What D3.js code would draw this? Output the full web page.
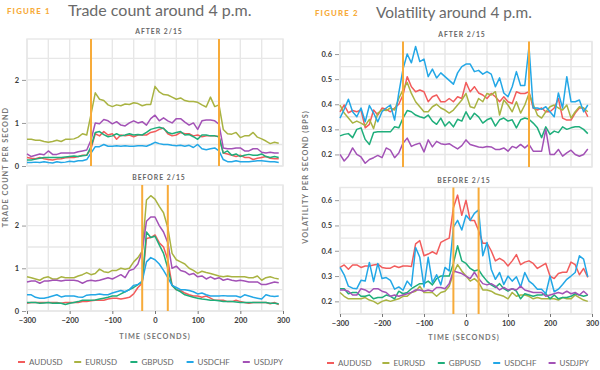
<!DOCTYPE html>
<html>
<head>
<meta charset="utf-8">
<script src="https://cdn.jsdelivr.net/npm/d3@7"></script>
<style>
  body { margin: 0; background: #fff; }
  svg { display: block; font-family: Lato, "Open Sans", sans-serif; }
  .tick text { font-family: Lato, sans-serif; font-weight: 700; fill: #3a3a3a; }
</style>
</head>
<body>
<div id="chart"></div>
<script>
// x values (seconds around 4 p.m.)
var seconds = [-300,-290,-280,-270,-260,-250,-240,-230,-220,-210,
  -200,-190,-180,-170,-160,-150,-140,-130,-120,-110,
  -100,-90,-80,-70,-60,-50,-40,-30,-20,-10,
  0,10,20,30,40,50,60,70,80,90,
  100,110,120,130,140,150,160,170,180,190,
  200,210,220,230,240,250,260,270,280,290];

var pairs = ["AUDUSD", "EURUSD", "GBPUSD", "USDCHF", "USDJPY"];

// Figure 1 - trade count per second, after 2/15
var tcAfterAUD = [0.2,0.18,0.17,0.2,0.17,0.15,0.14,0.16,0.17,0.19, 0.2,0.2,0.22,0.25,0.25,0.4,0.75,0.7,0.8,0.72,
  0.75,0.62,0.72,0.7,0.72,0.68,0.72,0.72,0.72,0.78, 0.8,0.85,0.88,0.75,0.7,0.72,0.78,0.75,0.75,0.7,
  0.72,0.68,0.7,0.7,0.7,0.68,0.3,0.28,0.25,0.22, 0.25,0.2,0.2,0.15,0.18,0.2,0.22,0.18,0.17,0.17];
var tcAfterEUR = [0.62,0.62,0.6,0.6,0.57,0.55,0.57,0.6,0.57,0.62, 0.62,0.63,0.67,0.75,0.72,1.2,1.7,1.55,1.52,1.42,
  1.38,1.42,1.4,1.44,1.43,1.47,1.45,1.4,1.43,1.43, 1.85,1.72,1.66,1.65,1.6,1.55,1.58,1.52,1.5,1.5,
  1.48,1.42,1.37,1.6,1.38,1.42,0.85,0.75,0.74,0.78, 0.66,0.7,0.7,0.78,0.67,0.63,0.58,0.52,0.55,0.53];
var tcAfterGBP = [0.14,0.14,0.16,0.18,0.2,0.2,0.2,0.2,0.2,0.21, 0.22,0.23,0.22,0.24,0.25,0.45,0.78,0.8,0.73,0.68,
  0.7,0.75,0.7,0.72,0.75,0.72,0.73,0.72,0.78,0.85, 0.88,0.9,0.87,0.78,0.75,0.78,0.8,0.72,0.73,0.68,
  0.62,0.72,0.72,0.7,0.7,0.68,0.3,0.35,0.25,0.28, 0.22,0.25,0.27,0.25,0.25,0.28,0.22,0.2,0.22,0.2];
var tcAfterCHF = [0.08,0.08,0.09,0.08,0.1,0.08,0.07,0.1,0.08,0.09, 0.11,0.1,0.12,0.12,0.15,0.3,0.45,0.45,0.5,0.46,
  0.46,0.47,0.46,0.47,0.46,0.46,0.47,0.47,0.46,0.5, 0.55,0.52,0.5,0.5,0.48,0.47,0.48,0.46,0.48,0.43,
  0.5,0.4,0.38,0.4,0.42,0.35,0.15,0.1,0.1,0.12, 0.1,0.1,0.1,0.11,0.12,0.12,0.11,0.1,0.1,0.08];
var tcAfterJPY = [0.28,0.22,0.25,0.28,0.26,0.35,0.27,0.27,0.3,0.3, 0.3,0.3,0.33,0.35,0.37,0.6,1.0,0.98,1.08,1.05,
  0.98,1.03,0.95,0.93,1.0,1.05,1.0,1.03,0.95,1.1, 1.18,1.05,1.12,1.05,1.0,1.1,1.1,1.02,0.95,1.0,
  0.85,1.05,1.07,1.07,1.05,0.97,0.42,0.4,0.4,0.42, 0.42,0.35,0.35,0.4,0.4,0.32,0.3,0.32,0.3,0.3];

// Figure 1 - trade count per second, before 2/15
var tcBeforeAUD = [0.18,0.2,0.2,0.2,0.2,0.2,0.2,0.2,0.18,0.2, 0.2,0.2,0.2,0.22,0.22,0.24,0.25,0.25,0.25,0.28,
  0.3,0.3,0.28,0.3,0.32,0.4,0.55,0.65,1.7,1.72, 1.78,1.6,1.5,1.2,0.6,0.5,0.48,0.42,0.38,0.35,
  0.35,0.32,0.35,0.3,0.25,0.25,0.25,0.22,0.22,0.25, 0.22,0.2,0.18,0.2,0.2,0.2,0.2,0.17,0.2,0.15];
var tcBeforeEUR = [0.8,0.78,0.75,0.72,0.78,0.8,0.75,0.75,0.8,0.78, 0.78,0.78,0.82,0.85,0.9,0.85,0.88,0.98,0.92,0.9,
  0.95,0.95,1.0,0.98,1.0,1.15,1.25,1.4,2.6,2.7, 2.62,2.45,2.3,1.95,1.35,1.2,1.15,1.1,1.0,0.95,
  0.88,0.93,0.9,0.88,0.85,0.82,0.8,0.82,0.8,0.8, 0.8,0.8,0.78,0.78,0.82,0.72,0.78,0.8,0.77,0.75];
var tcBeforeGBP = [0.2,0.2,0.2,0.18,0.19,0.2,0.18,0.19,0.18,0.15, 0.18,0.2,0.22,0.25,0.25,0.25,0.26,0.28,0.3,0.32,
  0.35,0.35,0.4,0.45,0.5,0.55,0.62,0.68,1.85,1.72, 1.75,1.55,1.35,1.0,0.6,0.5,0.45,0.38,0.35,0.32,
  0.3,0.28,0.27,0.25,0.25,0.24,0.22,0.22,0.22,0.21, 0.2,0.2,0.2,0.2,0.2,0.2,0.2,0.18,0.18,0.17];
var tcBeforeCHF = [0.38,0.38,0.32,0.3,0.3,0.32,0.35,0.38,0.33,0.35, 0.35,0.35,0.33,0.32,0.37,0.38,0.38,0.4,0.38,0.38,
  0.42,0.45,0.48,0.45,0.5,0.6,0.62,0.7,1.15,1.25, 1.2,1.1,0.95,0.78,0.6,0.55,0.5,0.5,0.48,0.45,
  0.4,0.42,0.38,0.35,0.35,0.35,0.36,0.35,0.35,0.35, 0.32,0.38,0.35,0.32,0.3,0.28,0.38,0.35,0.34,0.35];
var tcBeforeJPY = [0.68,0.7,0.7,0.65,0.7,0.7,0.72,0.72,0.7,0.72, 0.72,0.72,0.7,0.65,0.7,0.72,0.7,0.72,0.75,0.78,
  0.75,0.8,0.85,0.78,0.95,0.98,1.1,1.4,2.1,2.2, 2.2,2.0,1.85,1.6,1.0,1.05,0.95,0.92,0.85,0.88,
  0.8,0.82,0.75,0.8,0.75,0.78,0.72,0.75,0.72,0.7, 0.72,0.7,0.68,0.68,0.68,0.62,0.62,0.65,0.68,0.66];

// Figure 2 - volatility per second (bps), after 2/15
var volAfterAUD = [0.37,0.397,0.366,0.375,0.37,0.377,0.306,0.32,0.377,0.357, 0.385,0.38,0.37,0.385,0.4,0.437,0.51,0.47,0.45,0.457,
  0.45,0.41,0.43,0.437,0.41,0.41,0.423,0.41,0.43,0.423, 0.487,0.45,0.47,0.445,0.437,0.423,0.443,0.43,0.41,0.43,
  0.41,0.403,0.45,0.443,0.443,0.45,0.385,0.377,0.385,0.37, 0.37,0.385,0.423,0.345,0.337,0.337,0.365,0.385,0.385,0.35];
var volAfterEUR = [0.397,0.365,0.345,0.325,0.333,0.325,0.315,0.34,0.303,0.365, 0.377,0.375,0.385,0.377,0.423,0.457,0.487,0.443,0.41,0.39,
  0.37,0.37,0.39,0.4,0.385,0.377,0.365,0.377,0.397,0.417, 0.443,0.39,0.385,0.423,0.41,0.443,0.437,0.45,0.357,0.417,
  0.397,0.37,0.41,0.365,0.397,0.443,0.4,0.357,0.345,0.37, 0.39,0.397,0.385,0.377,0.397,0.345,0.37,0.39,0.385,0.37];
var volAfterGBP = [0.274,0.28,0.283,0.267,0.3,0.306,0.26,0.24,0.287,0.29, 0.29,0.29,0.29,0.31,0.306,0.345,0.375,0.37,0.357,0.35,
  0.345,0.357,0.333,0.32,0.345,0.313,0.33,0.31,0.34,0.333, 0.37,0.34,0.364,0.35,0.325,0.338,0.345,0.313,0.338,0.345,
  0.333,0.338,0.306,0.338,0.345,0.34,0.325,0.306,0.267,0.31, 0.28,0.293,0.287,0.31,0.3,0.306,0.31,0.31,0.3,0.283];
var volAfterCHF = [0.345,0.38,0.42,0.37,0.35,0.385,0.33,0.395,0.365,0.33, 0.37,0.385,0.397,0.337,0.445,0.54,0.6,0.565,0.63,0.57,
  0.58,0.51,0.54,0.505,0.525,0.51,0.495,0.48,0.525,0.55, 0.56,0.56,0.53,0.535,0.52,0.53,0.52,0.47,0.505,0.445,
  0.43,0.47,0.53,0.475,0.475,0.63,0.385,0.385,0.38,0.39, 0.37,0.35,0.445,0.385,0.51,0.41,0.41,0.417,0.37,0.397];
var volAfterJPY = [0.2,0.174,0.193,0.226,0.2,0.19,0.165,0.18,0.187,0.196, 0.187,0.226,0.217,0.187,0.206,0.245,0.265,0.232,0.24,0.245,
  0.21,0.258,0.23,0.252,0.243,0.24,0.243,0.232,0.222,0.235, 0.258,0.24,0.235,0.23,0.228,0.232,0.23,0.22,0.22,0.226,
  0.213,0.232,0.226,0.24,0.226,0.24,0.213,0.213,0.213,0.3, 0.2,0.2,0.22,0.193,0.206,0.217,0.2,0.193,0.2,0.222];

// Figure 2 - volatility per second (bps), before 2/15
var volBeforeAUD = [0.334,0.344,0.327,0.344,0.344,0.334,0.34,0.34,0.344,0.347, 0.334,0.331,0.331,0.34,0.334,0.34,0.34,0.338,0.427,0.44,
  0.38,0.387,0.396,0.387,0.433,0.442,0.45,0.57,0.62,0.54, 0.6,0.52,0.52,0.48,0.43,0.43,0.4,0.36,0.37,0.36,
  0.34,0.36,0.385,0.345,0.355,0.36,0.35,0.33,0.34,0.35, 0.3,0.29,0.31,0.315,0.315,0.355,0.345,0.305,0.33,0.295];
var volBeforeEUR = [0.235,0.22,0.21,0.21,0.21,0.21,0.215,0.205,0.2,0.19, 0.2,0.205,0.2,0.205,0.21,0.22,0.22,0.235,0.24,0.26,
  0.235,0.235,0.235,0.22,0.235,0.24,0.26,0.31,0.345,0.32, 0.3,0.28,0.29,0.275,0.245,0.245,0.24,0.23,0.225,0.22,
  0.21,0.235,0.22,0.225,0.225,0.22,0.21,0.215,0.21,0.21, 0.21,0.21,0.205,0.215,0.21,0.21,0.225,0.215,0.205,0.2];
var volBeforeGBP = [0.25,0.25,0.23,0.235,0.235,0.22,0.22,0.225,0.21,0.215, 0.215,0.225,0.22,0.21,0.24,0.23,0.235,0.25,0.26,0.27,
  0.27,0.28,0.265,0.29,0.3,0.3,0.3,0.35,0.42,0.36, 0.35,0.33,0.32,0.325,0.3,0.28,0.265,0.255,0.27,0.25,
  0.24,0.25,0.24,0.21,0.23,0.225,0.22,0.225,0.225,0.23, 0.21,0.225,0.21,0.215,0.215,0.22,0.23,0.225,0.22,0.225];
var volBeforeCHF = [0.334,0.305,0.26,0.252,0.25,0.283,0.28,0.354,0.278,0.35, 0.29,0.294,0.283,0.248,0.257,0.244,0.28,0.26,0.413,0.374,
  0.257,0.374,0.274,0.305,0.265,0.334,0.32,0.493,0.52,0.482, 0.54,0.52,0.548,0.562,0.38,0.433,0.327,0.287,0.314,0.267,
  0.3,0.28,0.297,0.257,0.314,0.28,0.267,0.248,0.248,0.23, 0.3,0.238,0.248,0.267,0.287,0.3,0.314,0.38,0.367,0.297];
var volBeforeJPY = [0.245,0.245,0.24,0.225,0.225,0.25,0.245,0.235,0.25,0.25, 0.24,0.235,0.22,0.225,0.22,0.225,0.23,0.235,0.245,0.245,
  0.24,0.245,0.24,0.255,0.255,0.25,0.27,0.32,0.315,0.31, 0.3,0.29,0.315,0.29,0.27,0.265,0.27,0.26,0.245,0.255,
  0.245,0.25,0.245,0.26,0.245,0.24,0.235,0.235,0.235,0.22, 0.225,0.23,0.235,0.23,0.24,0.23,0.235,0.225,0.24,0.225];

// vertical markers (seconds)
var markersAfter = [-150, 150];
var markersBefore = [-30, 30];

// axis ticks
var xTicks = [-300, -200, -100, 0, 100, 200, 300];
var tcTicks = [0, 1, 2];
var volTicks = [0.2, 0.3, 0.4, 0.5, 0.6];

var colors = {AUDUSD: "#f25c5c", EURUSD: "#a9b342", GBPUSD: "#1fae7b", USDCHF: "#23a7e6", USDJPY: "#a352b6"};
var orange = "#f7ab3a";
var gridColor = "#e7e7e7";

var svg = d3.select("#chart").append("svg")
  .attr("width", 600)
  .attr("height", 370);

// Draws one small panel (grid, lines, orange markers, axes)
function drawPanel(p) {
  var x = d3.scaleLinear().domain([-300, 300]).range([p.left, p.right]);
  var y = d3.scaleLinear().domain(p.domain).range([p.bottom, p.top]);
  var g = svg.append("g");

  // grid
  g.selectAll(".vg")
    .data(d3.range(-300, 301, 50))
    .enter().append("line")
    .attr("x1", d => x(d)).attr("x2", d => x(d))
    .attr("y1", p.top).attr("y2", p.bottom)
    .attr("stroke", gridColor).attr("stroke-width", 1.4);
  g.selectAll(".hg")
    .data(p.grid)
    .enter().append("line")
    .attr("x1", p.left).attr("x2", p.right)
    .attr("y1", d => y(d)).attr("y2", d => y(d))
    .attr("stroke", gridColor).attr("stroke-width", 1.4);
  g.append("rect")
    .attr("x", p.left).attr("y", p.top)
    .attr("width", p.right - p.left).attr("height", p.bottom - p.top)
    .attr("fill", "none").attr("stroke", gridColor).attr("stroke-width", 1.4);

  // series
  var line = d3.line()
    .x((d, i) => x(seconds[i]))
    .y(d => y(d));
  p.series.forEach(function(s, i) {
    g.append("path")
      .datum(s)
      .attr("d", line)
      .attr("fill", "none")
      .attr("stroke", colors[pairs[i]])
      .attr("stroke-width", 1.5)
      .attr("stroke-linejoin", "round");
  });

  // orange lines
  g.selectAll(".mk")
    .data(p.markers)
    .enter().append("line")
    .attr("x1", d => x(d)).attr("x2", d => x(d))
    .attr("y1", p.top).attr("y2", p.bottom)
    .attr("stroke", orange).attr("stroke-width", 2);

  // y axis
  var ya = g.append("g")
    .attr("transform", "translate(" + (p.left - 1) + ",0)")
    .call(d3.axisLeft(y).tickValues(p.ticks).tickFormat(p.fmt).tickSize(4).tickPadding(3));
  ya.select(".domain").remove();
  ya.selectAll(".tick line").attr("stroke", "#999");
  ya.selectAll(".tick text").style("font-size", "7.5px");

  // x axis only for the lower panel
  if (p.showX) {
    var xa = g.append("g")
      .attr("transform", "translate(0," + p.bottom + ")")
      .call(d3.axisBottom(x).tickValues(xTicks).tickSize(3).tickPadding(4));
    xa.select(".domain").remove();
    xa.selectAll(".tick line").attr("stroke", "#777");
    xa.selectAll(".tick text").style("font-size", "7.5px");
  }

  // panel title
  g.append("text")
    .attr("x", p.titleX)
    .attr("y", p.top - 5)
    .attr("text-anchor", "middle")
    .style("font-size", "6.8px")
    .style("font-weight", 700)
    .style("letter-spacing", "1px")
    .style("fill", "#666")
    .text(p.title);
}

// Figure headers
function header(x, y, label, title, size) {
  svg.append("text")
    .attr("x", x).attr("y", y)
    .style("font-size", "7.8px")
    .style("font-weight", 900)
    .style("letter-spacing", "1.2px")
    .style("fill", orange)
    .text(label);
  svg.append("text")
    .attr("x", x + 61).attr("y", y + 2)
    .style("font-size", size + "px")
    .style("fill", "#6a6a6a")
    .text(title);
}
header(7, 14, "FIGURE 1", "Trade count around 4 p.m.", 16);
header(315, 16, "FIGURE 2", "Volatility around 4 p.m.", 15.4);

var tcGrid = [0, 0.5, 1, 1.5, 2, 2.5];
var volGrid = [0.15, 0.2, 0.25, 0.3, 0.35, 0.4, 0.45, 0.5, 0.55, 0.6];

drawPanel({left: 27, right: 283, top: 39, bottom: 166, domain: [0, 2.95], grid: tcGrid,
  ticks: tcTicks, fmt: d3.format("d"), markers: markersAfter, title: "AFTER 2/15", titleX: 159,
  series: [tcAfterAUD, tcAfterEUR, tcAfterGBP, tcAfterCHF, tcAfterJPY]});
drawPanel({left: 27, right: 283, top: 185, bottom: 311, domain: [0, 2.95], grid: tcGrid,
  ticks: tcTicks, fmt: d3.format("d"), markers: markersBefore, title: "BEFORE 2/15", titleX: 159, showX: true,
  series: [tcBeforeAUD, tcBeforeEUR, tcBeforeGBP, tcBeforeCHF, tcBeforeJPY]});
drawPanel({left: 340, right: 592, top: 41.5, bottom: 167, domain: [0.15, 0.65], grid: volGrid,
  ticks: volTicks, fmt: d3.format(".1f"), markers: markersAfter, title: "AFTER 2/15", titleX: 462,
  series: [volAfterAUD, volAfterEUR, volAfterGBP, volAfterCHF, volAfterJPY]});
drawPanel({left: 340, right: 592, top: 187.5, bottom: 314, domain: [0.15, 0.65], grid: volGrid,
  ticks: volTicks, fmt: d3.format(".1f"), markers: markersBefore, title: "BEFORE 2/15", titleX: 464, showX: true,
  series: [volBeforeAUD, volBeforeEUR, volBeforeGBP, volBeforeCHF, volBeforeJPY]});

// axis titles
function axisTitle(x, y, rot, txt) {
  svg.append("text")
    .attr("transform", "translate(" + x + "," + y + ")" + (rot ? " rotate(-90)" : ""))
    .attr("text-anchor", "middle")
    .attr("dy", "0.35em")
    .style("font-size", "7.3px")
    .style("font-weight", 700)
    .style("letter-spacing", "1px")
    .style("fill", "#777")
    .text(txt);
}
axisTitle(155, 336, false, "TIME (SECONDS)");
axisTitle(464, 337.5, false, "TIME (SECONDS)");
axisTitle(5, 167, true, "TRADE COUNT PER SECOND");
axisTitle(305, 177, true, "VOLATILITY PER SECOND (BPS)");

// legends
function legend(x0, step, y) {
  var items = svg.append("g").selectAll("g")
    .data(pairs)
    .enter().append("g")
    .attr("transform", (d, i) => "translate(" + (x0 + i * step) + "," + y + ")");
  items.append("line")
    .attr("x1", 0).attr("x2", 7)
    .attr("stroke", d => colors[d]).attr("stroke-width", 2);
  items.append("text")
    .attr("x", 11).attr("dy", "0.35em")
    .style("font-size", "8px")
    .style("fill", "#666")
    .text(d => d);
}
legend(18, 56.2, 362);
legend(327, 55.4, 363);
</script>
</body>
</html>
